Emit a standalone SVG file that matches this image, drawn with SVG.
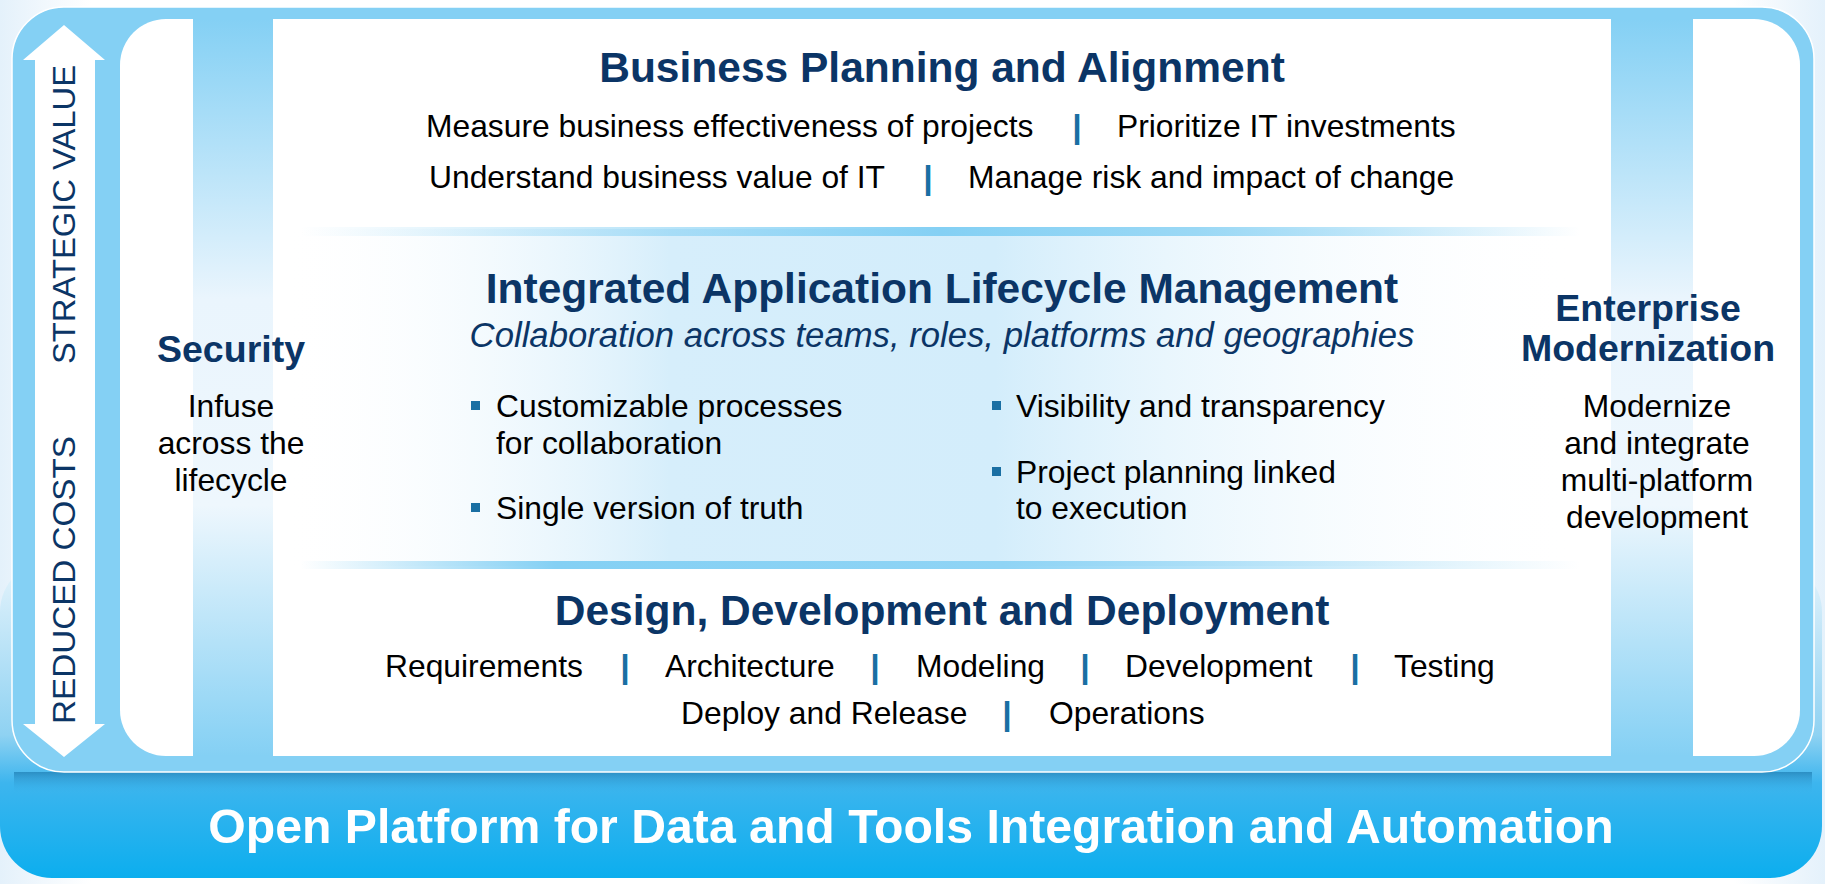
<svg xmlns="http://www.w3.org/2000/svg" width="1825" height="884" viewBox="0 0 1825 884">
<defs>
<linearGradient id="barGrad" x1="0" y1="0" x2="0" y2="1">
<stop offset="0" stop-color="#e6f4fc"/>
<stop offset="0.55" stop-color="#8fd2f2"/>
<stop offset="0.7" stop-color="#3db5ee"/>
<stop offset="1" stop-color="#0caeee"/>
</linearGradient>
<linearGradient id="shadowGrad" x1="0" y1="0" x2="0" y2="1">
<stop offset="0" stop-color="#1f7fb5" stop-opacity="0.75"/>
<stop offset="1" stop-color="#3db5ee" stop-opacity="0"/>
</linearGradient>
<linearGradient id="colGrad" x1="0" y1="0" x2="0" y2="1">
<stop offset="0" stop-color="#84d0f4"/>
<stop offset="0.38" stop-color="#eaf5fd"/>
<stop offset="0.66" stop-color="#eef7fd"/>
<stop offset="1" stop-color="#84d0f4"/>
</linearGradient>
<linearGradient id="bandGrad" x1="0" y1="0" x2="1" y2="0">
<stop offset="0" stop-color="#ffffff" stop-opacity="0"/>
<stop offset="0.3" stop-color="#d6eefb"/>
<stop offset="0.55" stop-color="#d3edfb"/>
<stop offset="1" stop-color="#ffffff" stop-opacity="0"/>
</linearGradient>
<linearGradient id="topLineGrad" x1="0" y1="0" x2="1" y2="0">
<stop offset="0" stop-color="#84d0f4" stop-opacity="0"/>
<stop offset="0.5" stop-color="#84d0f4"/>
<stop offset="0.7" stop-color="#9ad8f5"/>
<stop offset="1" stop-color="#84d0f4" stop-opacity="0"/>
</linearGradient>
<linearGradient id="botLineGrad" x1="0" y1="0" x2="1" y2="0">
<stop offset="0" stop-color="#84d0f4" stop-opacity="0"/>
<stop offset="0.2" stop-color="#84d0f4"/>
<stop offset="0.55" stop-color="#8fd4f5"/>
<stop offset="1" stop-color="#84d0f4" stop-opacity="0"/>
</linearGradient>
<linearGradient id="pageGrad" x1="0" y1="0" x2="1" y2="0">
<stop offset="0" stop-color="#e4f1fb"/>
<stop offset="0.05" stop-color="#ffffff"/>
<stop offset="0.95" stop-color="#ffffff"/>
<stop offset="1" stop-color="#e4f1fb"/>
</linearGradient>
<style>
.title{font-family:"Liberation Sans",Arial,sans-serif;font-weight:bold;fill:#0b3566;font-size:42.5px;text-anchor:middle}
.txt{font-family:"Liberation Sans",Arial,sans-serif;fill:#000;font-size:31.8px}
.ctr{text-anchor:middle}
.sep{font-family:"Liberation Sans",Arial,sans-serif;font-weight:bold;fill:#1a6fa3;font-size:34px;text-anchor:middle}
.sub{font-family:"Liberation Sans",Arial,sans-serif;font-style:italic;fill:#0b3566;font-size:34.7px;text-anchor:middle}
.side{font-family:"Liberation Sans",Arial,sans-serif;font-weight:bold;fill:#0b3566;font-size:37.5px;text-anchor:middle}
.vert{font-family:"Liberation Sans",Arial,sans-serif;fill:#0b3566;font-size:31px}
.bul{fill:#1a6fa3}
.foot{font-family:"Liberation Sans",Arial,sans-serif;font-weight:bold;fill:#ffffff;font-size:48.2px;text-anchor:middle}
</style>
</defs>

<rect x="0" y="0" width="1825" height="884" fill="url(#pageGrad)"/>

<g id="platform-bar">
<rect x="0" y="560" width="1822" height="318" rx="52" fill="url(#barGrad)"/>
<rect x="14" y="772" width="1798" height="22" fill="url(#shadowGrad)"/>
<text class="foot" x="911" y="843">Open Platform for Data and Tools Integration and Automation</text>
</g>

<g id="frame">
<rect x="12" y="7" width="1802" height="765" rx="52" fill="#84d0f4" stroke="#ffffff" stroke-width="1.5"/>
<rect x="120" y="19" width="1680" height="737" rx="46" fill="#ffffff"/>
<rect x="193" y="19" width="80" height="737" fill="url(#colGrad)"/>
<rect x="1611" y="19" width="82" height="737" fill="url(#colGrad)"/>
</g>

<g id="axis-arrow">
<path d="M64,25 L105,60 L95,60 L95,724 L105,724 L64,757 L23,724 L35,724 L35,60 L23,60 Z" fill="#ffffff"/>
<text class="vert" transform="translate(75,364) rotate(-90)" textLength="299" lengthAdjust="spacingAndGlyphs">STRATEGIC VALUE</text>
<text class="vert" transform="translate(75,724) rotate(-90)" textLength="288" lengthAdjust="spacingAndGlyphs">REDUCED  COSTS</text>
</g>

<g id="alm-band">
<rect x="280" y="229" width="1300" height="337" fill="url(#bandGrad)"/>
<rect x="300" y="227" width="1280" height="9" fill="url(#topLineGrad)"/>
<rect x="300" y="561" width="1280" height="8" fill="url(#botLineGrad)"/>
</g>

<g id="business-planning">
<text class="title" x="942" y="82">Business Planning and Alignment</text>
<text class="txt" x="426" y="137">Measure business effectiveness of projects</text>
<text class="sep" x="1077" y="138">|</text>
<text class="txt" x="1117" y="137">Prioritize IT investments</text>
<text class="txt" x="429" y="188">Understand business value of IT</text>
<text class="sep" x="928" y="189">|</text>
<text class="txt" x="968" y="188">Manage risk and impact of change</text>
</g>

<g id="alm">
<text class="title" x="942" y="303">Integrated Application Lifecycle Management</text>
<text class="sub" x="942" y="347">Collaboration across teams, roles, platforms and geographies</text>
<rect class="bul" x="471" y="401" width="9" height="9"/>
<text class="txt" x="496" y="417">Customizable processes</text>
<text class="txt" x="496" y="454">for collaboration</text>
<rect class="bul" x="471" y="503" width="9" height="9"/>
<text class="txt" x="496" y="519">Single version of truth</text>
<rect class="bul" x="992" y="401" width="9" height="9"/>
<text class="txt" x="1016" y="417">Visibility and transparency</text>
<rect class="bul" x="992" y="467" width="9" height="9"/>
<text class="txt" x="1016" y="483">Project planning linked</text>
<text class="txt" x="1016" y="519">to execution</text>
</g>

<g id="security">
<text class="side" x="231" y="362">Security</text>
<text class="txt ctr" x="231" y="417">Infuse</text>
<text class="txt ctr" x="231" y="454">across the</text>
<text class="txt ctr" x="231" y="491">lifecycle</text>
</g>

<g id="enterprise-modernization">
<text class="side" x="1648" y="321">Enterprise</text>
<text class="side" x="1648" y="361">Modernization</text>
<text class="txt ctr" x="1657" y="417">Modernize</text>
<text class="txt ctr" x="1657" y="454">and integrate</text>
<text class="txt ctr" x="1657" y="491">multi-platform</text>
<text class="txt ctr" x="1657" y="528">development</text>
</g>

<g id="design-development">
<text class="title" x="942" y="625">Design, Development and Deployment</text>
<text class="txt" x="385" y="677">Requirements</text>
<text class="sep" x="625" y="678">|</text>
<text class="txt" x="665" y="677">Architecture</text>
<text class="sep" x="875" y="678">|</text>
<text class="txt" x="916" y="677">Modeling</text>
<text class="sep" x="1085" y="678">|</text>
<text class="txt" x="1125" y="677">Development</text>
<text class="sep" x="1355" y="678">|</text>
<text class="txt" x="1394" y="677">Testing</text>
<text class="txt" x="681" y="724">Deploy and Release</text>
<text class="sep" x="1007" y="725">|</text>
<text class="txt" x="1049" y="724">Operations</text>
</g>
</svg>
